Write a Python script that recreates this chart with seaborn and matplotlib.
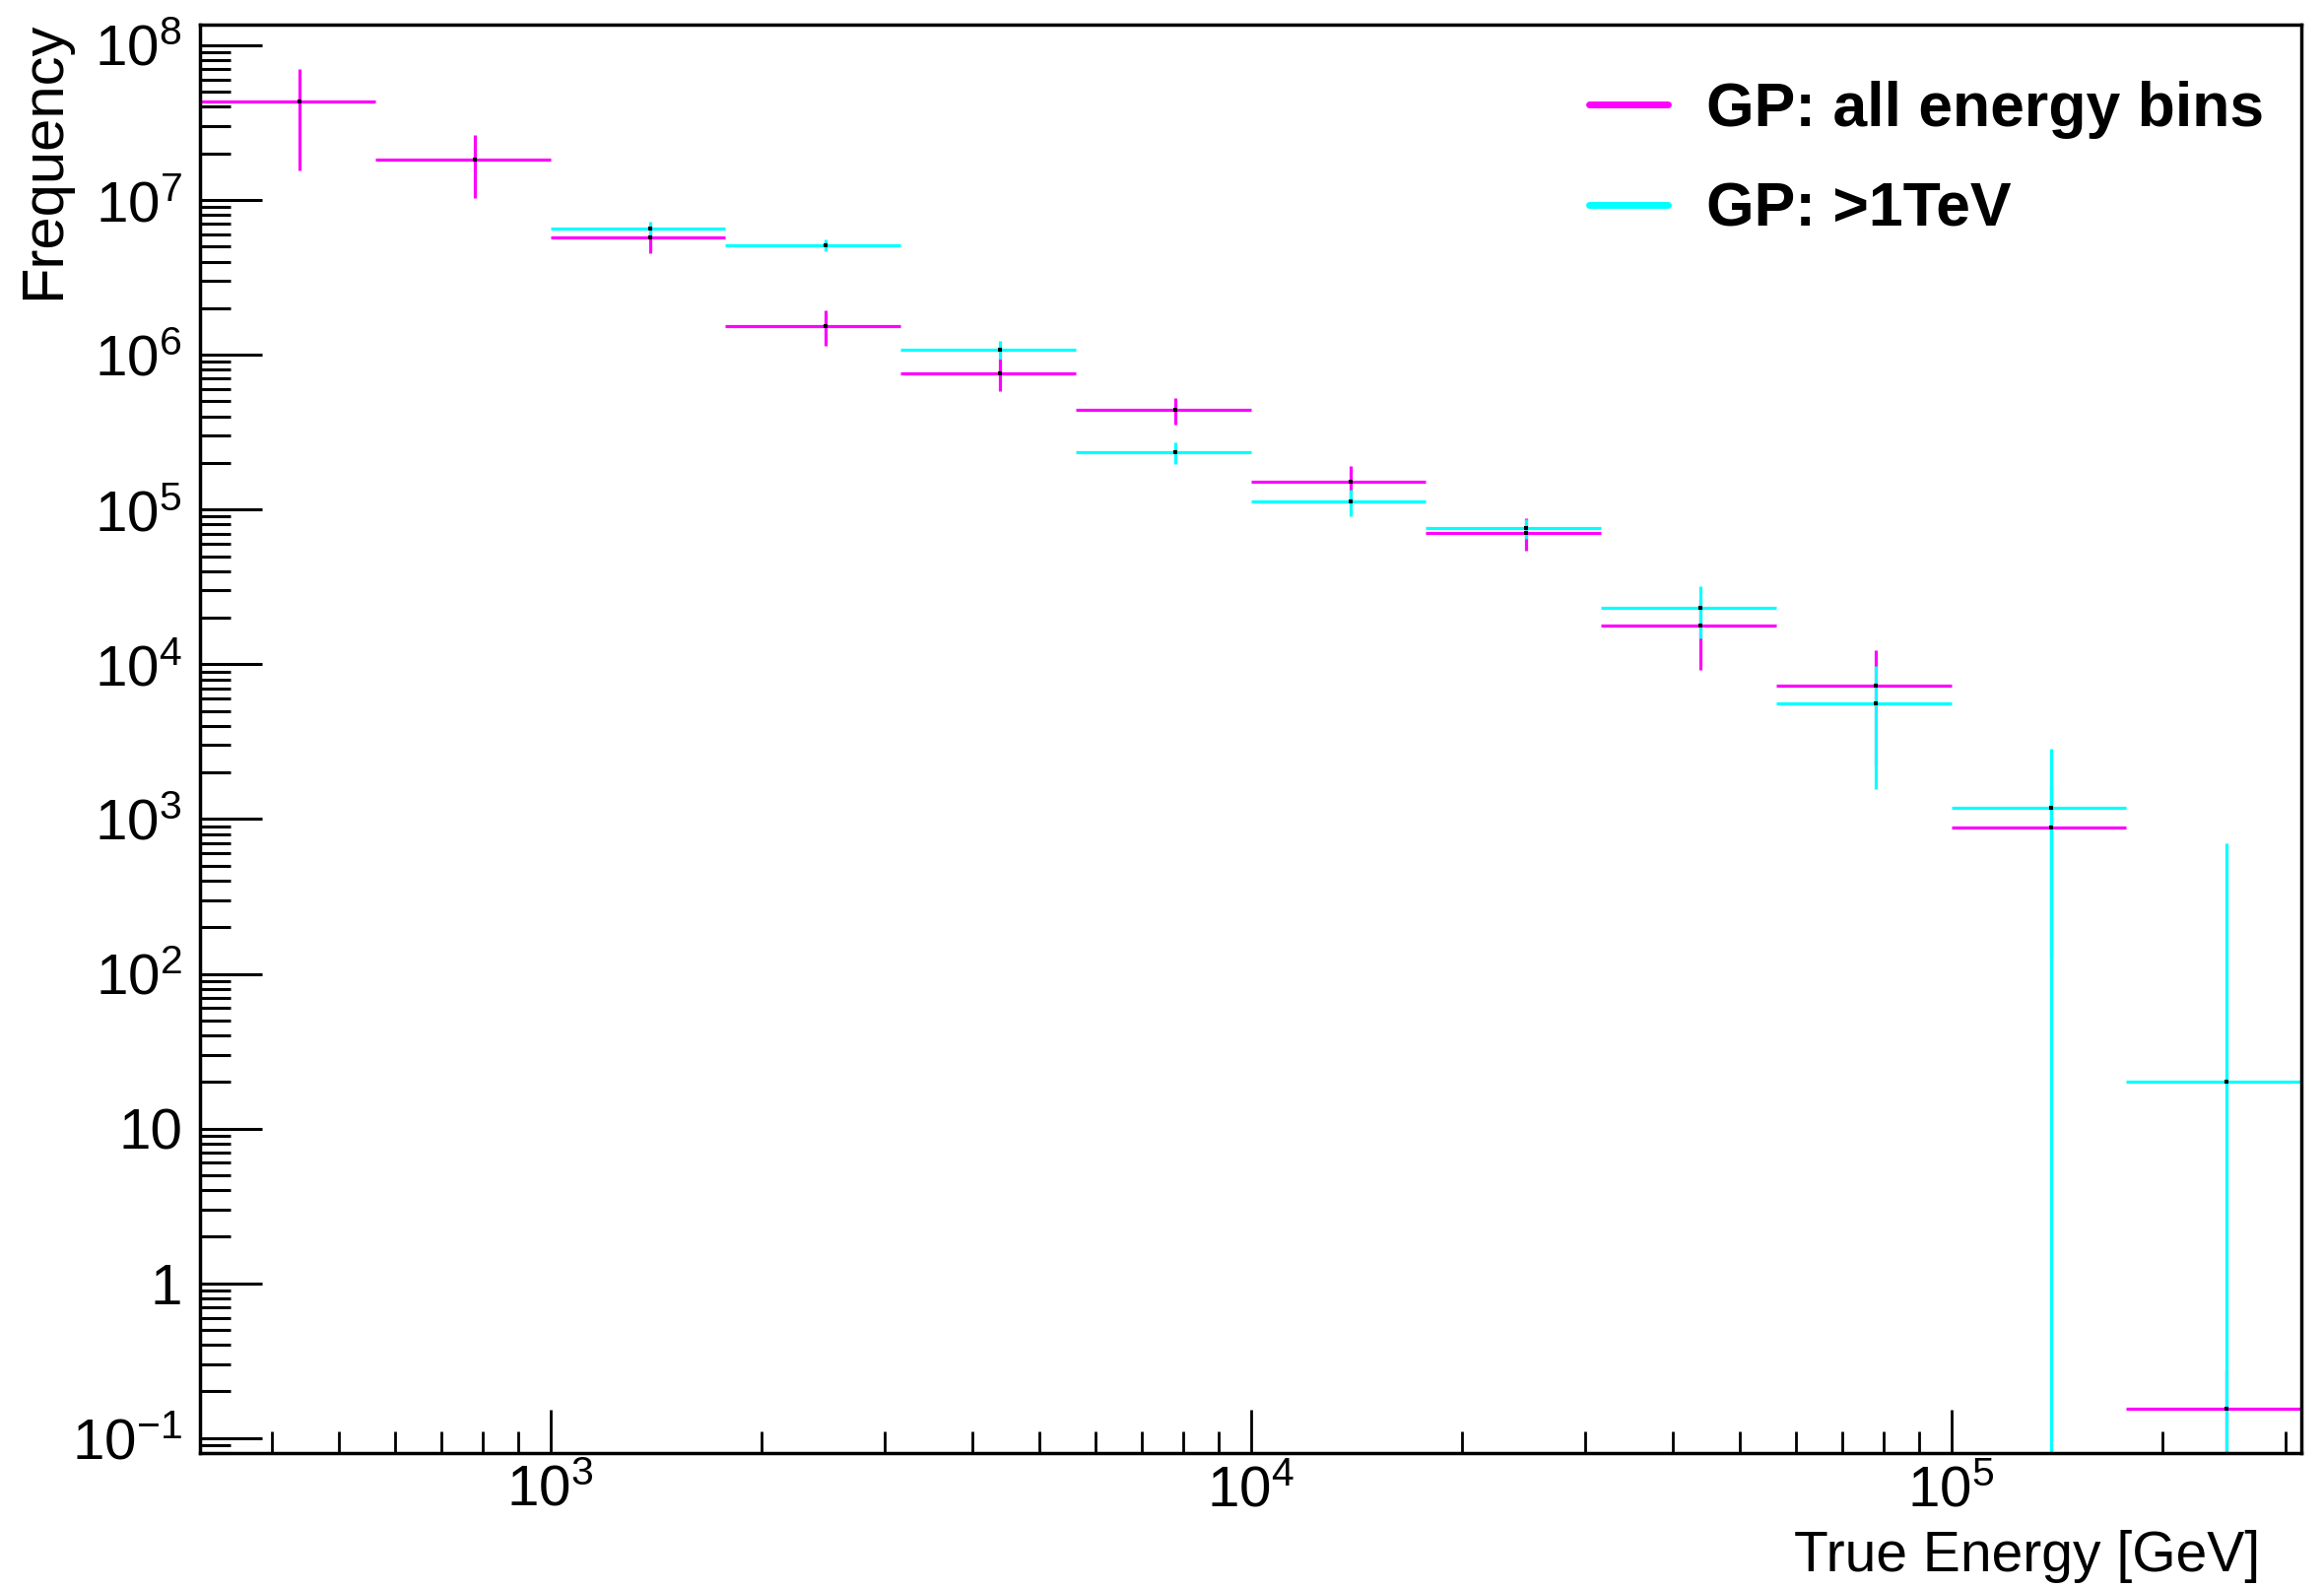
import numpy as np
import pandas as pd
import matplotlib
matplotlib.use("Agg")
import matplotlib.pyplot as plt
import seaborn as sns
from matplotlib.lines import Line2D
from matplotlib.ticker import FixedLocator, FixedFormatter, LogLocator, NullFormatter

# ---------------- data ----------------
bin_edges = [316.23, 562.34, 1000.0, 1778.28, 3162.28, 5623.41, 10000.0,
             17782.79, 31622.78, 56234.13, 100000.0, 177827.94, 316227.77]

all_values = [4.32e7, 1.83e7, 5.72e6, 1.54e6, 7.64e5, 4.42e5, 1.52e5,
              7.1e4, 1.77e4, 7.27e3, 880.0, 0.155]
all_errors = [2.76e7, 8.0e6, 1.17e6, 4.0e5, 1.85e5, 8.7e4, 3.86e4,
              1.7e4, 8.5e3, 5.05e3, 750.0, 0.12]

tev_values = [np.nan, np.nan, 6.53e6, 5.11e6, 1.086e6, 2.34e5, 1.131e5,
              7.6e4, 2.33e4, 5.63e3, 1.18e3, 20.2]
tev_errors = [np.nan, np.nan, 7.0e5, 4.6e5, 1.45e5, 3.7e4, 2.2e4,
              1.1e4, 8.6e3, 4.07e3, 1.68e3, 677.0]

series_labels = ["GP: all energy bins", "GP: >1TeV"]
series_colors = ["#ff00ff", "#00ffff"]

y_tick_values = [1e-1, 1, 10, 1e2, 1e3, 1e4, 1e5, 1e6, 1e7, 1e8]
y_tick_labels = [r"$10^{-1}$", "1", "10", r"$10^{2}$", r"$10^{3}$", r"$10^{4}$",
                 r"$10^{5}$", r"$10^{6}$", r"$10^{7}$", r"$10^{8}$"]
x_tick_values = [1e3, 1e4, 1e5]
x_tick_labels = [r"$10^{3}$", r"$10^{4}$", r"$10^{5}$"]

x_label = "True Energy [GeV]"
y_label = "Frequency"

# ---------------- style ----------------
sns.set_theme(style="white")
plt.rcParams["font.family"] = ["Liberation Sans", "DejaVu Sans"]
plt.rcParams["mathtext.fontset"] = "custom"
plt.rcParams["mathtext.rm"] = "Liberation Sans"
plt.rcParams["mathtext.it"] = "Liberation Sans:italic"
plt.rcParams["mathtext.bf"] = "Liberation Sans:bold"
plt.rcParams["mathtext.default"] = "regular"
plt.rcParams["text.color"] = "black"
plt.rcParams["xtick.color"] = "black"
plt.rcParams["ytick.color"] = "black"
plt.rcParams["xtick.labelcolor"] = "black"
plt.rcParams["ytick.labelcolor"] = "black"

edges = np.array(bin_edges)
centers = 0.5 * (edges[:-1] + edges[1:])
half_w_lo = centers - edges[:-1]
half_w_hi = edges[1:] - centers

df = pd.DataFrame({
    "energy": np.concatenate([centers, centers]),
    "freq": np.concatenate([all_values, tev_values]),
    "err": np.concatenate([all_errors, tev_errors]),
    "series": [series_labels[0]] * len(centers) + [series_labels[1]] * len(centers),
}).dropna()

W, H = 2359, 1612
fig = plt.figure(figsize=(W / 100, H / 100), dpi=100)
ax = fig.add_axes([203 / W, 1 - 1475 / H, (2336 - 203) / W, (1475 - 25) / H])

ax.set_xscale("log")
ax.set_yscale("log")

for lab, col in zip(series_labels, series_colors):
    sub = df[df["series"] == lab]
    idx = [list(centers).index(c) for c in sub["energy"]]
    ax.errorbar(sub["energy"], sub["freq"],
                xerr=[half_w_lo[idx], half_w_hi[idx]],
                yerr=sub["err"], fmt="none", ecolor=col,
                elinewidth=2.3, capsize=0, zorder=2)

sns.scatterplot(data=df, x="energy", y="freq", color="black", marker="s",
                s=7, linewidth=0, ax=ax, zorder=3, legend=False)

ax.set_xlim(10 ** 2.5, 10 ** 5.5)
ax.set_ylim(0.080, 1.36e8)

ax.yaxis.set_major_locator(FixedLocator(y_tick_values))
ax.yaxis.set_major_formatter(FixedFormatter(y_tick_labels))
ax.yaxis.set_minor_locator(LogLocator(base=10, subs=np.arange(2, 10), numticks=60))
ax.yaxis.set_minor_formatter(NullFormatter())
ax.xaxis.set_major_locator(FixedLocator(x_tick_values))
ax.xaxis.set_major_formatter(FixedFormatter(x_tick_labels))
ax.xaxis.set_minor_locator(LogLocator(base=10, subs=np.arange(2, 10), numticks=60))
ax.xaxis.set_minor_formatter(NullFormatter())

ax.tick_params(axis="y", which="major", direction="in", length=45, width=2.2,
               labelsize=42, pad=13, color="black", left=True, right=False)
ax.tick_params(axis="y", which="minor", direction="in", length=22, width=2.2,
               color="black", left=True, right=False)
ax.tick_params(axis="x", which="major", direction="in", length=32, width=2.0,
               labelsize=42, pad=8, color="black", bottom=True, top=False)
ax.tick_params(axis="x", which="minor", direction="in", length=16, width=2.0,
               color="black", bottom=True, top=False)

for sp in ax.spines.values():
    sp.set_visible(True)
    sp.set_color("black")
    sp.set_linewidth(2.5)

ax.set_xlabel("")
ax.set_ylabel("")
fig.text(2294 / W, 1 - 1595 / H, x_label, ha="right", va="baseline", fontsize=41,
         color="black")
fig.text(45 / W, 1 - 22 / H, y_label, ha="center", va="top", rotation=90, fontsize=43,
         color="black")

handles = [Line2D([0], [0], color=c, lw=5) for c in series_colors]
leg = ax.legend(handles, series_labels, loc="upper left",
                bbox_to_anchor=(1613 / W, 1 - 82 / H), bbox_transform=fig.transFigure,
                frameon=False, prop={"size": 45, "weight": "bold"},
                handlelength=1.28, handletextpad=0.62, labelspacing=0.68,
                borderpad=0, borderaxespad=0)
for t in leg.get_texts():
    t.set_color("black")

fig.savefig("out.png", dpi=100)
